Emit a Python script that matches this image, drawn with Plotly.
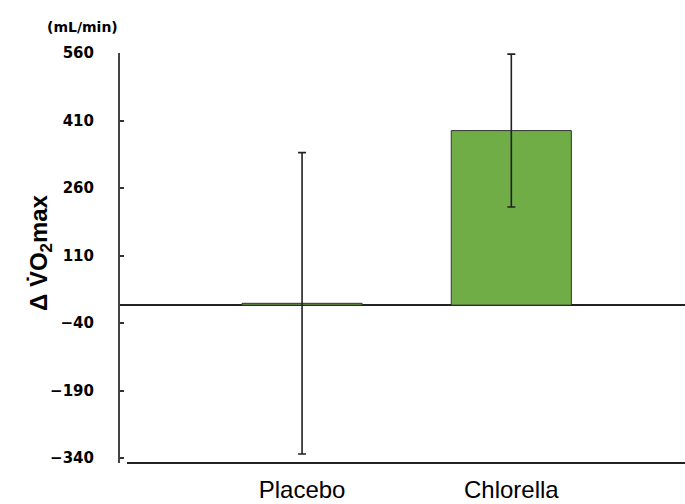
import plotly.graph_objects as go

categories = ["Placebo", "Chlorella"]
values = [4, 388]
errors = [335, 170]
y_ticks = [560, 410, 260, 110, -40, -190, -340]

W, H = 685, 504
L, R, T, B = 120, 0, 53, 41
plot_w = W - L - R
plot_h = H - T - B

def px_x(px):
    return (px - L) / plot_w

def px_y(py):
    return (H - B - py) / plot_h

fig = go.Figure()
fig.add_trace(go.Bar(
    x=[0, 1], y=values,
    marker=dict(color="#70AD47", line=dict(color="#333333", width=1)),
    width=0.574,
    error_y=dict(type="data", array=errors, visible=True, color="#222222", thickness=1.6, width=4),
))

fig.update_layout(
    width=W, height=H,
    margin=dict(l=L, r=R, t=T, b=B),
    plot_bgcolor="white", paper_bgcolor="white",
    showlegend=False,
    xaxis=dict(
        range=[-0.87, 1.83], tickvals=[0, 1], ticktext=categories,
        showline=False, ticks="", showgrid=False, zeroline=False,
        tickfont=dict(family="Liberation Sans, Arial", size=24, color="black"),
        ticklabelstandoff=10, automargin=False,
    ),
    yaxis=dict(
        range=[-351, 560.5], tickvals=y_ticks,
        showline=True, linecolor="#444444", linewidth=2,
        ticks="inside", ticklen=4, tickcolor="#333333", tickwidth=1.5,
        showgrid=False, zeroline=True, zerolinecolor="#222222", zerolinewidth=1.6,
        tickfont=dict(family="DejaVu Sans, Liberation Sans", size=15, color="black", weight="bold"),
        ticklabelstandoff=21, automargin=False,
    ),
    shapes=[dict(
        type="line", xref="paper", yref="paper",
        x0=px_x(127), x1=1, y0=0, y1=0,
        line=dict(color="#222222", width=2),
    )],
    annotations=[
        dict(
            text="<b>(mL/min)</b>", x=px_x(82), y=px_y(27), xref="paper", yref="paper",
            xanchor="center", yanchor="middle", showarrow=False,
            font=dict(family="DejaVu Sans, Liberation Sans", size=14, color="black"),
        ),
        dict(
            text="<b>Δ V\u0307O<sub>2</sub>max</b>", x=px_x(40), y=px_y(253), xref="paper", yref="paper",
            xanchor="center", yanchor="middle", showarrow=False, textangle=-90,
            font=dict(family="Liberation Sans, Arial", size=24, color="black"),
        ),
    ],
)

fig.write_html("out.html", config={"displayModeBar": False},
               post_script="document.body.style.margin='0';")
